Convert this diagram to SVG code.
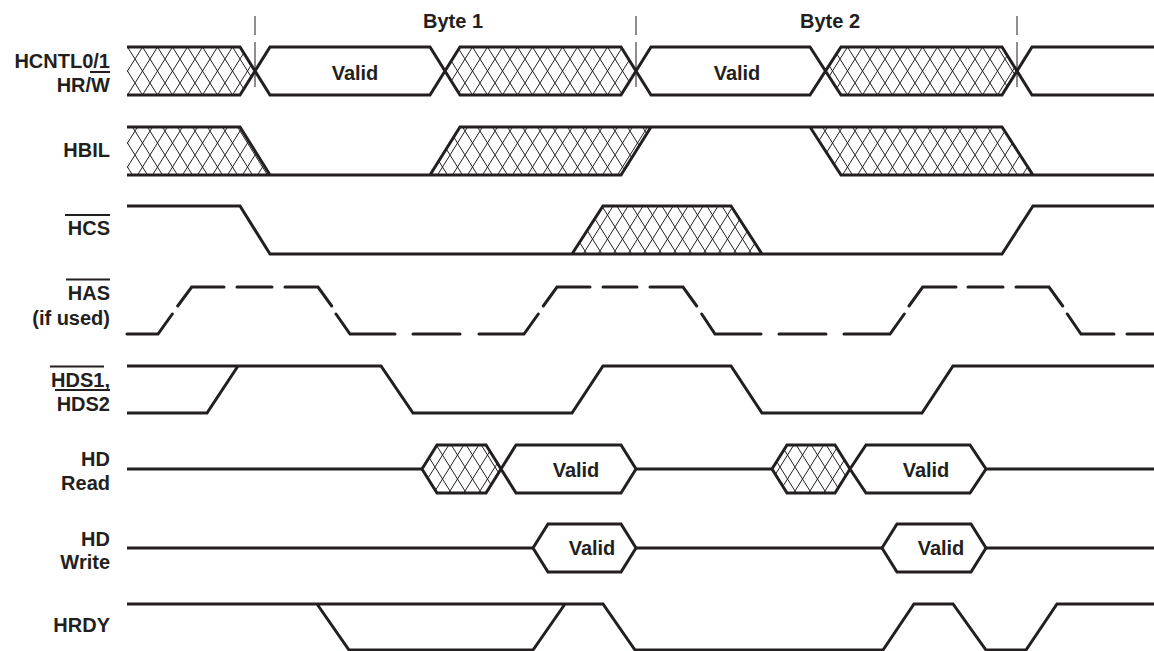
<svg xmlns="http://www.w3.org/2000/svg" width="1154" height="651" viewBox="0 0 1154 651">
<style>
.sig{fill:none;stroke:#231f20;stroke-width:3;stroke-linejoin:miter;stroke-linecap:butt}
.dash{fill:none;stroke:#231f20;stroke-width:3;stroke-linecap:round;stroke-linejoin:miter}
.hat{fill:url(#hatch);stroke:none}
.box{fill:#fff;stroke:#231f20;stroke-width:3}
.hbox{fill:url(#hatch);stroke:#231f20;stroke-width:3}
.lbl{font-family:"Liberation Sans",Arial,sans-serif;font-weight:bold;font-size:20px;fill:#231f20;text-anchor:end}
.txt{font-family:"Liberation Sans",Arial,sans-serif;font-weight:bold;font-size:20px;fill:#231f20;text-anchor:middle}
.ovl{stroke:#231f20;stroke-width:2}
.mark{stroke:#444;stroke-width:1.2;fill:none}
</style>
<defs>
<pattern id="hatch" patternUnits="userSpaceOnUse" x="0" y="11" width="15" height="24">
<rect width="15" height="24" fill="#fff"/>
<path d="M0,0 L15,24 M15,0 L0,24" stroke="#231f20" stroke-width="1" fill="none"/>
</pattern>
</defs>
<rect width="1154" height="651" fill="#fff"/>

<g id="markers">
<path class="mark" d="M255,16 V35 M255,42 V87 M636,16 V35 M636,42 V87 M1017,16 V35 M1017,42 V87"/>
<text class="txt" x="453" y="28">Byte 1</text>
<text class="txt" x="830" y="28">Byte 2</text>
</g>

<g id="hcntl">
<text class="lbl" x="110" y="68">HCNTL0/1</text>
<text class="lbl" x="110" y="92">HR/W</text>
<line class="ovl" x1="90" y1="72" x2="110" y2="72"/>
<polygon class="hat" points="127,47 240,47 255,71 240,95 127,95"/>
<polygon class="hat" points="445,71 460,47 621,47 636,71 621,95 460,95"/>
<polygon class="hat" points="826,71 841,47 1002,47 1017,71 1002,95 841,95"/>
<path class="sig" d="M127,47 H240 L270,95 H430 L460,47 H621 L651,95 H810 L841,47 H1002 L1032,95 H1154 M127,95 H240 L270,47 H430 L460,95 H621 L651,47 H810 L841,95 H1002 L1032,47 H1154"/>
<text class="txt" x="355" y="80">Valid</text>
<text class="txt" x="737" y="80">Valid</text>
</g>

<g id="hbil">
<text class="lbl" x="110" y="157">HBIL</text>
<polygon class="hat" points="127,127 240,127 270,175 127,175"/>
<polygon class="hat" points="430,175 460,127 651,127 621,175"/>
<polygon class="hat" points="810,127 1002,127 1033,175 841,175"/>
<path class="sig" d="M127,127 H240 L270,175 M127,175 H621 L651,127 M430,175 L460,127 H1002 L1033,175 H1154 M810,127 L841,175 H1033"/>
</g>

<g id="hcs">
<text class="lbl" x="110" y="235">HCS</text>
<line class="ovl" x1="65" y1="215" x2="110" y2="215"/>
<polygon class="hat" points="572,254 603,206 731,206 762,254"/>
<path class="sig" d="M127,206 H240 L270,254 H1002 L1033,206 H1154 M572,254 L603,206 H731 L762,254"/>
</g>

<g id="has">
<text class="lbl" x="110" y="300">HAS</text>
<line class="ovl" x1="66" y1="279.5" x2="110" y2="279.5"/>
<text class="lbl" x="110" y="325">(if used)</text>
<path class="dash" d="M127,334 H158 L172.3,314 M177.7,306 L191.7,287 H224 M237,287 H272 M285,287 H318 L331.7,306 M336,314 L350,334 H395 M413,334 H460 M479,334 H524 L538.3,314 M543.3,306 L557,287 H590 M603,287 H637 M650,287 H683 L696.7,306 M701.7,314 L715,334 H761 M779,334 H826 M844,334 H890 L904.3,314 M909,306 L922.7,287 H956 M968,287 H1003 M1016,287 H1049 L1062.7,306 M1067.3,314 L1081,334 H1114 M1127,334 H1154"/>
</g>

<g id="hds">
<text class="lbl" x="110" y="387">HDS1,</text>
<line class="ovl" x1="50" y1="366.5" x2="104" y2="366.5"/>
<text class="lbl" x="110" y="411">HDS2</text>
<line class="ovl" x1="55" y1="390" x2="110" y2="390"/>
<path class="sig" d="M127,366 H381 L413,413 H572 L603,366 H731 L762,413 H922 L953,366 H1154 M127,413 H207 L238,366"/>
</g>

<g id="hdread">
<text class="lbl" x="110" y="466">HD</text>
<text class="lbl" x="110" y="490">Read</text>
<path class="sig" d="M127,469 H422 M636,469 H772 M986,469 H1154"/>
<polygon class="hbox" points="422,469 437,445 486,445 501,469 486,493 437,493"/>
<polygon class="box" points="501,469 516,445 621,445 636,469 621,493 516,493"/>
<polygon class="hbox" points="772,469 787,445 835,445 850,469 835,493 787,493"/>
<polygon class="box" points="850,469 866,445 970,445 986,469 970,493 866,493"/>
<text class="txt" x="576" y="477">Valid</text>
<text class="txt" x="926" y="477">Valid</text>
</g>

<g id="hdwrite">
<text class="lbl" x="110" y="546">HD</text>
<text class="lbl" x="110" y="569">Write</text>
<path class="sig" d="M127,548 H533 M636,548 H882 M986,548 H1154"/>
<polygon class="box" points="533,548 548,524 621,524 636,548 621,572 548,572"/>
<polygon class="box" points="882,548 897,524 971,524 986,548 971,572 897,572"/>
<text class="txt" x="592" y="555">Valid</text>
<text class="txt" x="941" y="555">Valid</text>
</g>

<g id="hrdy">
<text class="lbl" x="110" y="632">HRDY</text>
<path class="sig" d="M127,604 H603 L635,650 H883 L914,604 H953 L986,650 H1026 L1057,604 H1154 M317,604 L349,650 H533 L565,604"/>
</g>
</svg>
